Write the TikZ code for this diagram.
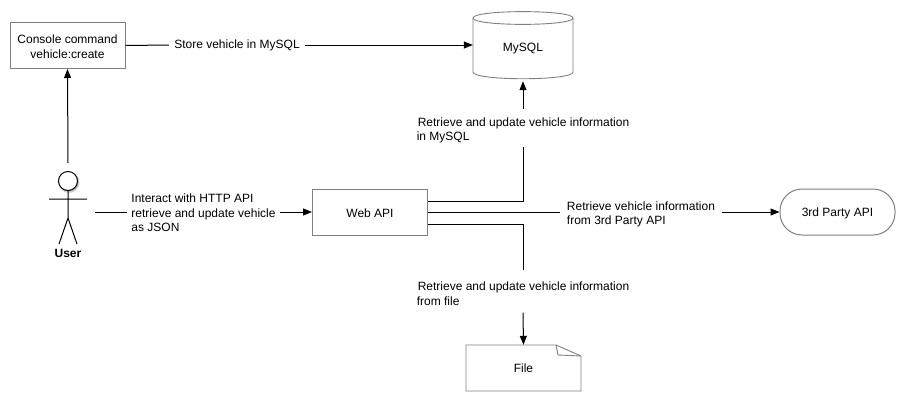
\documentclass[tikz,border=0pt]{standalone}
\usepackage{fontspec}
\setmainfont{Liberation Sans}
\usetikzlibrary{arrows.meta,calc}
\definecolor{edge}{HTML}{808080}
\newcommand{\topgap}[1]{\rule{0pt}{#1}}
\tikzset{
  x=1pt,y=-1pt,
  every node/.style={font=\fontsize{12}{14.5}\selectfont,text=black},
  box/.style={draw=edge,line width=1pt,fill=white,minimum width=115pt,minimum height=46pt,inner sep=0pt,align=center},
  lab/.style={inner sep=0pt,align=left},
  shapeline/.style={draw=edge,line width=.9pt,fill=white},
  conn/.style={draw=black,line width=1pt},
  arr/.style={conn,-{Triangle[length=9pt,width=7pt]}},
  stick/.style={draw=black,line width=1pt}
}
\begin{document}
\begin{tikzpicture}
\useasboundingbox (0,0) rectangle (906,402);
% boxes
\node[box] (console) at (67.5,45.5) {\topgap{11pt}Console command\\vehicle:create};
\node[box] (web) at (370,212) {\topgap{11.5pt}Web API};
\node[box,rounded corners=22pt] (third) at (837.5,212) {\topgap{11.5pt}3rd Party API};
% cylinder
\draw[shapeline] (473,18) .. controls (473,9.5) and (573,9.5) .. (573,18)
  -- (573,72) .. controls (573,81) and (473,81) .. (473,72) -- cycle;
\draw[edge,line width=.9pt] (473,18) .. controls (473,26.5) and (573,26.5) .. (573,18);
\node[minimum width=100pt,minimum height=68pt,inner sep=0pt] (mysql) at (523,47) {};
\node at (523,48.5) {MySQL};
% file
\draw[shapeline] (466,345) -- (556,345) -- (581,356) -- (581,391) -- (466,391) -- cycle;
\draw[edge,line width=.9pt] (556,345) -- (558,355) -- (581,356);
\node[minimum width=115pt,minimum height=46pt,inner sep=0pt] (file) at (523.5,368) {File};
% actor
\fill[black,opacity=.18] (69,182.5) circle (10.5);
\fill[black,opacity=.18] (69,182) circle (9.5);
\draw[stick,fill=white] (68,181) circle (9.5);
\draw[stick] (68,190.5) -- (68,218) (49,199) -- (87,199) (59,244) -- (68,218) -- (77,244);
\node[font=\bfseries\fontsize{12}{14}\selectfont] (userlabel) at (68,253) {User};
\coordinate (usertop) at (68,163);
\coordinate (userright) at (95,212);
% labels
\node[lab,minimum width=136pt,minimum height=14pt] (lstore) at (237,45) {Store vehicle in MySQL};
\node[lab,minimum width=153pt,minimum height=44pt] (lhttp) at (203.5,212) {\topgap{11pt}Interact with HTTP API\\retrieve and update vehicle\\as JSON};
\node[lab,minimum width=215pt,minimum height=38pt] (lsql) at (523,128) {\topgap{13pt}\hspace*{1pt}Retrieve and update vehicle information\\in MySQL};
\node[lab,minimum width=162pt,minimum height=30pt] (lthird) at (641,212) {\topgap{13pt}Retrieve vehicle information\\from 3rd Party API};
\node[lab,minimum width=215pt,minimum height=42pt] (lfile) at (523,291.5) {\topgap{13pt}\hspace*{1pt}Retrieve and update vehicle information\\from file};
% connectors
\draw[arr] (usertop) -- (console.south);
\draw[conn] (console.east) -- (lstore.west);
\draw[arr] (lstore.east) -- (mysql.west |- lstore.east);
\draw[conn] (userright) -- (lhttp.west);
\draw[arr] (lhttp.east) -- (web.west);
\draw[conn] ([yshift=11pt]web.east) -| (lsql.south);
\draw[arr] (lsql.north) -- (mysql.south);
\draw[conn] (web.east) -- (lthird.west);
\draw[arr] (lthird.east) -- (third.west);
\draw[conn] ([yshift=-12pt]web.east) -| (lfile.north);
\draw[arr] (lfile.south) -- (file.north);
\end{tikzpicture}
\end{document}
